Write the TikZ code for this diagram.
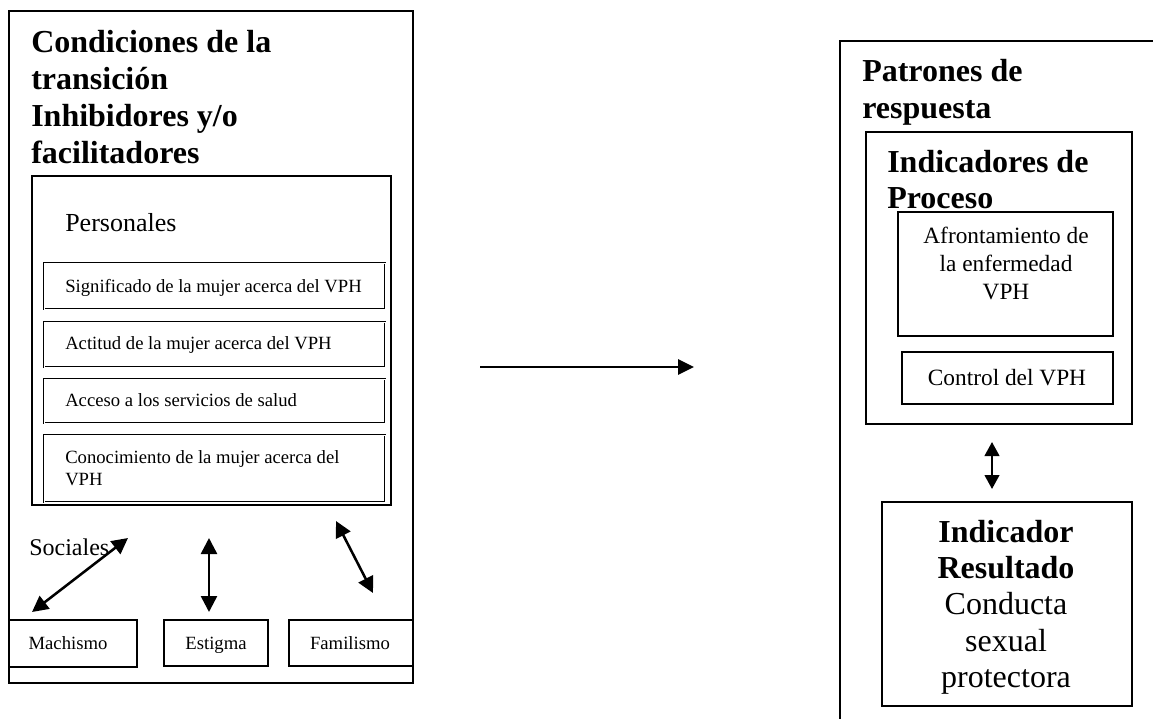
\documentclass[tikz,border=0pt]{standalone}
\usepackage{fontspec}
\setmainfont{Liberation Serif}
\usetikzlibrary{arrows.meta}
\tikzset{
  frame/.style={draw=black,line width=1.6pt},
  subbox/.style={draw=black,double=white,double distance=0.6pt,line width=0.8pt},
  lbl/.style={inner sep=0pt,anchor=base west},
  clbl/.style={inner sep=0pt,anchor=base},
  ttl/.style={font=\fontsize{24}{28}\selectfont\bfseries},
  big/.style={font=\fontsize{24}{28}\selectfont},
  mid/.style={font=\fontsize{17.5}{21}\selectfont},
  small/.style={font=\fontsize{14}{16.5}\selectfont},
  conn/.style={line width=1.9pt,{Triangle[length=12pt,width=12pt]}-{Triangle[length=12pt,width=12pt]}},
  oneway/.style={line width=1.6pt,-{Triangle[length=12pt,width=11.5pt]}}
}
\begin{document}
\begin{tikzpicture}[x=0.75pt,y=-0.75pt]
\useasboundingbox (0,0) rectangle (1153,719);
% left outer frame
\draw[frame] (9,11) rectangle (413,683);
\node[lbl,ttl] (t1) at (31,52) {Condiciones de la};
\node[lbl,ttl] (t2) at (31,89) {transición};
\node[lbl,ttl] (t3) at (31,126) {Inhibidores y/o};
\node[lbl,ttl] (t4) at (31,163) {facilitadores};
% personales
\draw[frame] (32,176) rectangle (391,505);
\node[lbl,font=\fontsize{19.5}{23}\selectfont] (pers) at (65,231) {Personales};
\draw[subbox] (44,263) rectangle (385,309);
\node[lbl,small] (p1) at (65,292) {Significado de la mujer acerca del VPH};
\draw[subbox] (44,322) rectangle (385,367);
\node[lbl,small] (p2) at (65,349) {Actitud de la mujer acerca del VPH};
\draw[subbox] (44,379) rectangle (385,423);
\node[lbl,small] (p3) at (65,406) {Acceso a los servicios de salud};
\draw[subbox] (44,435) rectangle (385,502);
\node[lbl,small] (p4a) at (65,463) {Conocimiento de la mujer acerca del};
\node[lbl,small] (p4b) at (65,485) {VPH};
% sociales
\node[lbl,font=\fontsize{18}{21}\selectfont] (soc) at (29,555) {Sociales};
\draw[frame] (9,620) rectangle (137,667);
\node[clbl,small] (mach) at (68,649) {Machismo};
\draw[frame] (164,620) rectangle (268,666);
\node[clbl,small] (est) at (216,649) {Estigma};
\draw[frame] (289,620) rectangle (413,666);
\node[clbl,small] (fam) at (350,649) {Familismo};
\coordinate (a1s) at (128,538);
\coordinate (a1e) at (32,612);
\coordinate (a2s) at (209,538);
\coordinate (a2e) at (209,612);
\coordinate (a3s) at (336,521);
\coordinate (a3e) at (373,593);
\draw[conn] (a1s) -- (a1e);
\draw[conn] (a2s) -- (a2e);
\draw[conn] (a3s) -- (a3e);
% middle arrow
\coordinate (ms) at (480,367);
\coordinate (me) at (694,367);
\draw[oneway] (ms) -- (me);
% right outer frame (clipped at page edge)
\draw[frame] (1153,41) -- (840,41) -- (840,719);
\node[lbl,ttl] (r1) at (862,81) {Patrones de};
\node[lbl,ttl] (r2) at (862,118) {respuesta};
\draw[frame] (866,132) rectangle (1132,424);
\node[lbl,ttl] (r3) at (887,172) {Indicadores de};
\draw[frame] (898,212) rectangle (1113,336);
\node[lbl,ttl] (r4) at (887,208) {Proceso};
\node[clbl,mid] (af1) at (1006,243) {Afrontamiento de};
\node[clbl,mid] (af2) at (1006,271) {la enfermedad};
\node[clbl,mid] (af3) at (1006,299) {VPH};
\draw[frame] (902,352) rectangle (1113,404);
\node[clbl,mid] (ctl) at (1007,385) {Control del VPH};
\coordinate (rs) at (992,442);
\coordinate (re) at (992,489);
\draw[line width=1.6pt,{Triangle[length=10.5pt,width=11pt]}-{Triangle[length=10.5pt,width=11pt]}] (rs) -- (re);
\draw[frame] (882,502) rectangle (1132,706);
\node[clbl,ttl] (ir1) at (1006,542) {Indicador};
\node[clbl,ttl] (ir2) at (1006,578) {Resultado};
\node[clbl,big] (ir3) at (1006,614) {Conducta};
\node[clbl,big] (ir4) at (1006,651) {sexual};
\node[clbl,big] (ir5) at (1006,687) {protectora};
\end{tikzpicture}
\end{document}
